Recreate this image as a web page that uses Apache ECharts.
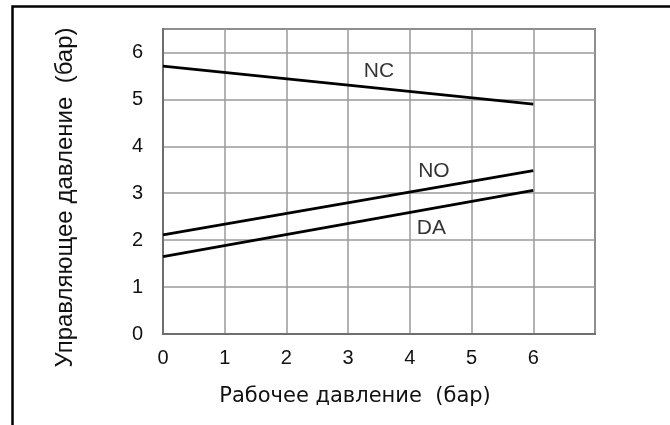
<!DOCTYPE html>
<html>
<head>
<meta charset="utf-8">
<script src="https://cdn.jsdelivr.net/npm/echarts@6/dist/echarts.min.js"></script>
<style>
  html, body { margin: 0; padding: 0; background: #fff; }
  #chart { width: 670px; height: 425px; }
</style>
</head>
<body>
<div id="chart"></div>
<script>
// данные кривых: рабочее давление -> управляющее давление
const workPressure = [0, 6];
const ncValues = [5.71, 4.9];
const noValues = [2.11, 3.48];
const daValues = [1.65, 3.06];

// подписи кривых (в координатах графика)
const curveLabels = [
    { name: 'NC', value: [3.5, 5.59] },
    { name: 'NO', value: [4.39, 3.48] },
    { name: 'DA', value: [4.35, 2.26] }
];

const xTitle = 'Рабочее давление  (бар)';
const yTitle = 'Управляющее давление  (бар)';

const sansFont = '"Liberation Sans", Arial, sans-serif';

const toPairs = ys => workPressure.map((x, i) => [x, ys[i]]);

const lineSeries = (name, ys) => ({
    name,
    type: 'line',
    data: toPairs(ys),
    symbol: 'none',
    silent: true,
    lineStyle: { color: '#000', width: 2.8 }
});

const chart = echarts.init(document.getElementById('chart'));

chart.setOption({
    animation: false,
    backgroundColor: '#fff',
    graphic: [
        {
            type: 'rect',
            shape: { x: 12.5, y: 6.5, width: 720, height: 520 },
            style: { fill: 'none', stroke: '#000', lineWidth: 2.5 },
            silent: true
        }
    ],
    grid: {
        left: 163,
        right: 75,
        top: 29,
        bottom: 91,
        show: true,
        borderColor: '#6e6e6e',
        borderWidth: 2
    },
    xAxis: {
        type: 'value',
        min: 0,
        max: 7,
        interval: 1,
        name: xTitle,
        nameLocation: 'middle',
        nameGap: 52,
        nameTextStyle: {
            fontFamily: '"DejaVu Sans", Verdana, sans-serif',
            fontSize: 21,
            color: '#111',
            padding: [0, 48, 0, 0]
        },
        axisLine: { show: true, lineStyle: { color: '#6e6e6e', width: 2 } },
        axisTick: { show: false },
        axisLabel: {
            margin: 14,
            fontFamily: sansFont,
            fontSize: 20,
            color: '#111',
            formatter: v => (v > 6 ? '' : String(v))
        },
        splitLine: { lineStyle: { color: '#9a9a9a', width: 1.5 } }
    },
    yAxis: {
        type: 'value',
        min: 0,
        max: 6.5,
        interval: 1,
        name: yTitle,
        nameLocation: 'middle',
        nameRotate: 90,
        nameGap: 86,
        nameTextStyle: {
            fontFamily: sansFont,
            fontSize: 24,
            color: '#111',
            padding: [0, 32, 0, 0]
        },
        axisLine: { show: true, lineStyle: { color: '#6e6e6e', width: 2 } },
        axisTick: { show: false },
        axisLabel: {
            margin: 20,
            fontFamily: sansFont,
            fontSize: 20,
            color: '#111',
            formatter: v => (Number.isInteger(v) ? String(v) : '')
        },
        splitLine: { lineStyle: { color: '#9a9a9a', width: 1.5 } }
    },
    series: [
        lineSeries('NC', ncValues),
        lineSeries('NO', noValues),
        lineSeries('DA', daValues),
        {
            type: 'scatter',
            data: curveLabels,
            symbolSize: 0,
            silent: true,
            label: {
                show: true,
                position: 'inside',
                formatter: p => p.name,
                fontFamily: sansFont,
                fontSize: 21,
                color: '#000'
            }
        }
    ]
});
</script>
</body>
</html>
